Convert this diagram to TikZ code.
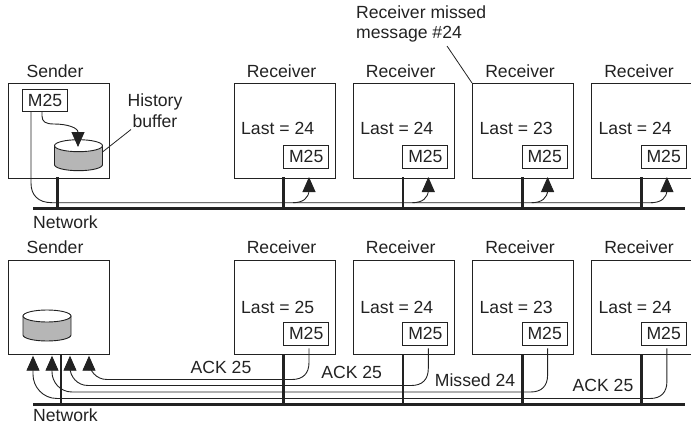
\documentclass[tikz,border=0pt]{standalone}
\usepackage{fontspec}
\setmainfont{Liberation Sans}
\usetikzlibrary{arrows.meta}
\definecolor{ink}{HTML}{222222}
\definecolor{cyl}{HTML}{B6B6B6}
\tikzset{
  x=1pt,y=-1pt,
  every node/.style={font=\fontsize{17.6}{20}\selectfont,text=ink,inner sep=0pt},
  boxn/.style={draw=ink,line width=1pt,minimum width=101pt,minimum height=94.5pt,anchor=north west},
  msgbox/.style={draw=ink,fill=white,line width=1pt,minimum width=45pt,minimum height=22.4pt},
  lbl/.style={anchor=center},
  leftlbl/.style={anchor=west},
  bus/.style={ink,line width=3.2pt},
  stub/.style={ink,line width=2.8pt},
  wire/.style={ink,line width=0.9pt},
  arr/.style={wire,-{Triangle[length=15pt,width=13pt]}},
}
\newcommand{\cylinder}[2]{% x-left, ellipse centre y
  \fill[cyl,draw=ink,line width=0.9pt] (#1,#2) -- (#1,#2+19) arc[start angle=180,end angle=360,x radius=24pt,y radius=6pt] -- (#1+48,#2) -- cycle;
  \draw[ink,line width=0.9pt,fill=white] (#1+24,#2) ellipse[x radius=24pt,y radius=6pt];
}
\begin{document}
\begin{tikzpicture}
\useasboundingbox (0,0) rectangle (691,423);
% ---------- top panel
\node[boxn] (s1) at (7.5,83) {};
\node[lbl] (s1l) at (55,71) {Sender};
\node[msgbox,minimum width=44.5pt] (sm1) at (45,100.5) {M25};
\cylinder{54.5}{145.7}
\node[lbl] (hist) at (155,102) {History};
\node[lbl] (buf) at (155,121) {buffer};
\coordinate (cylr) at (102.5,152);
\draw[ink,line width=0.8pt] (cylr) -- (131,129.5);
\foreach \i/\x/\l in {1/233.5/24,2/352.7/24,3/472/23,4/591/24}{
  \node[boxn] (r\i) at (\x,83) {};
  \node[lbl] (r\i l) at (\x+48,71) {Receiver};
  \node[leftlbl] (r\i t) at (\x+7.5,128) {Last = \l};
  \node[msgbox] (rm\i) at (\x+72.7,156.8) {M25};
}
\coordinate (b1s) at (33,208.7); \coordinate (b1e) at (685,208.7);
\draw[bus] (b1s) -- (b1e);
\draw[stub] (57.7,177) -- (57.7,208.7);
\foreach \x in {283.7,403,522.3,641.6}{\draw[stub] (\x,177.3) -- (\x,208.7);}
\coordinate (m1) at (31,111.7);
\draw[wire] (m1) -- (31,183) .. controls (31,195) and (38,202.7) .. (52,202.7) -- (653,202.7);
\foreach \x in {309,428.3,547.6,666.9}{
  \draw[arr] (\x-16,202.7) .. controls (\x-6,202.7) and (\x,198) .. (\x,190) -- (\x,177);
}
\draw[wire,-{Triangle[length=15pt,width=13pt]}] (42,111.7) -- (42,116) .. controls (42,122) and (46,124) .. (54,124) .. controls (68,124) and (78,128) .. (78,147);
\node[leftlbl] (net1) at (33,222) {Network};
\node[anchor=south west,align=left] (note) at (356,42.5) {Receiver missed\\message \#24};
\draw[ink,line width=0.8pt] (447,46) -- (r3.north west);
% ---------- bottom panel
\node[boxn] (s2) at (7.5,259.5) {};
\node[lbl] (s2l) at (55,247.5) {Sender};
\cylinder{23}{316}
\foreach \i/\x/\l in {1/233.5/25,2/352.7/24,3/472/23,4/591/24}{
  \node[boxn] (q\i) at (\x,259.5) {};
  \node[lbl] (q\i l) at (\x+48,247.5) {Receiver};
  \node[leftlbl] (q\i t) at (\x+7.5,307) {Last = \l};
  \node[msgbox] (qm\i) at (\x+72.7,333.8) {M25};
}
\coordinate (b2s) at (33,404.3); \coordinate (b2e) at (685,404.3);
\draw[bus] (b2s) -- (b2e);
\foreach \x in {61,283.7,403,522.3,641.6}{\draw[stub] (\x,354) -- (\x,404.3);}
\foreach \xa/\ya/\xb/\ra in {89/379.5/309/18,70/385.5/428.3/18,52/392/547.6/20,33/398.5/666.9/24}{
  \draw[arr] (\xb,348.3) -- (\xb,\ya-17) .. controls (\xb,\ya-6) and (\xb-6,\ya) .. (\xb-17,\ya) -- (\xa+\ra,\ya) .. controls (\xa+\ra*0.4,\ya) and (\xa,\ya-\ra*0.5) .. (\xa,\ya-\ra) -- (\xa,355.7);
}
\node[lbl] (a1) at (221,367) {ACK 25};
\node[lbl] (a2) at (351.7,372.7) {ACK 25};
\node[lbl] (a3) at (475,380) {Missed 24};
\node[lbl] (a4) at (603,385.7) {ACK 25};
\node[leftlbl] (net2) at (33,415) {Network};
\end{tikzpicture}
\end{document}
